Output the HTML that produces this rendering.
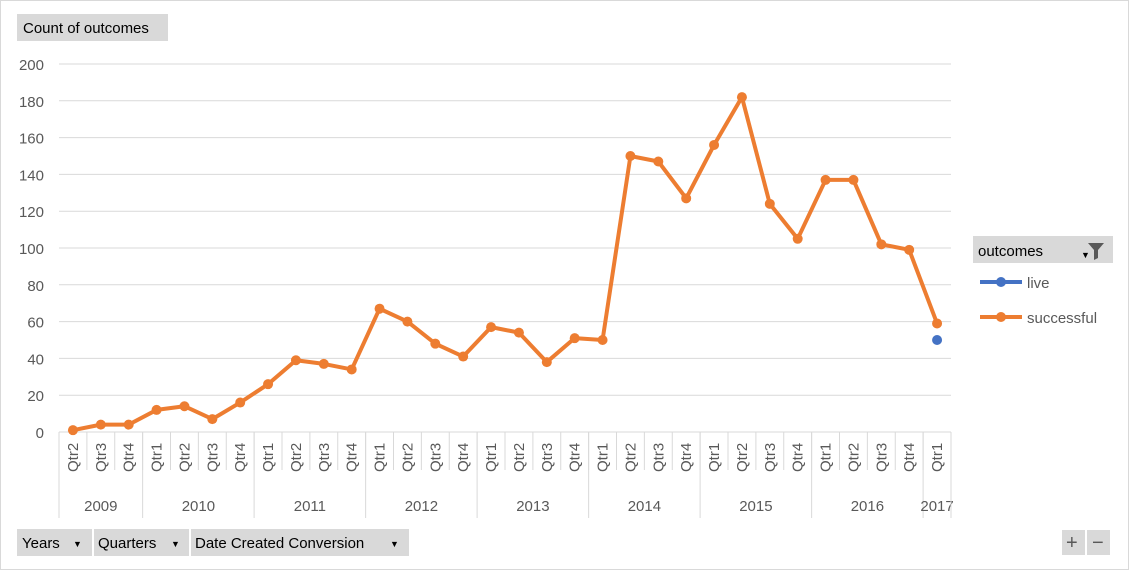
<!DOCTYPE html>
<html><head><meta charset="utf-8"><style>
body{margin:0;background:#fff;font-family:"Liberation Sans",sans-serif;}
svg text{font-family:"Liberation Sans",sans-serif;fill:#595959;}
</style></head><body>
<svg width="1129" height="570" id="c">
<rect x="0.5" y="0.5" width="1128" height="569" fill="#fff" stroke="#d9d9d9"/>
<g><rect x="17" y="14" width="151" height="27" fill="#d9d9d9"/><text x="23" y="33" font-size="15" style="fill:#000">Count of outcomes</text></g>
<g id="grid"></g><g id="xaxis"></g><g id="series"></g>
<g>
<g><rect x="973" y="236" width="140" height="27" fill="#d9d9d9"/><text x="978" y="256" font-size="15" style="fill:#000">outcomes</text><text x="1081" y="258" font-size="9" style="fill:#000">▼</text><path d="M1088 243h16l-6 7v8l-4 2v-10z" fill="#595959"/></g>
<g><line x1="980" y1="282" x2="1022" y2="282" stroke="#4472c4" stroke-width="4"/><circle cx="1001" cy="282" r="5" fill="#4472c4"/><text x="1027" y="288" font-size="15">live</text></g>
<g><line x1="980" y1="317" x2="1022" y2="317" stroke="#ed7d31" stroke-width="4"/><circle cx="1001" cy="317" r="5" fill="#ed7d31"/><text x="1027" y="323" font-size="15">successful</text></g>
</g>
<g><rect x="17" y="529" width="75" height="27" fill="#d9d9d9"/><text x="22" y="548" font-size="15" style="fill:#000">Years</text><text x="73" y="547" font-size="9" style="fill:#000">▼</text></g>
<g><rect x="94" y="529" width="95" height="27" fill="#d9d9d9"/><text x="98" y="548" font-size="15" style="fill:#000">Quarters</text><text x="171" y="547" font-size="9" style="fill:#000">▼</text></g>
<g><rect x="191" y="529" width="218" height="27" fill="#d9d9d9"/><text x="195" y="548" font-size="15" style="fill:#000">Date Created Conversion</text><text x="390" y="547" font-size="9" style="fill:#000">▼</text></g>
<g><rect x="1062" y="530" width="23" height="25" fill="#d9d9d9"/><text x="1066" y="549" font-size="20">+</text></g>
<g><rect x="1087" y="530" width="23" height="25" fill="#d9d9d9"/><text x="1092" y="549" font-size="20">−</text></g>
</svg>
<script>
const years=["2009","2010","2011","2012","2013","2014","2015","2016","2017"];
const yearCounts=[3,4,4,4,4,4,4,4,1];
const quarters=["Qtr2","Qtr3","Qtr4","Qtr1","Qtr2","Qtr3","Qtr4","Qtr1","Qtr2","Qtr3","Qtr4","Qtr1","Qtr2","Qtr3","Qtr4","Qtr1","Qtr2","Qtr3","Qtr4","Qtr1","Qtr2","Qtr3","Qtr4","Qtr1","Qtr2","Qtr3","Qtr4","Qtr1","Qtr2","Qtr3","Qtr4","Qtr1"];
const successful=[1,4,4,12,14,7,16,26,39,37,34,67,60,48,41,57,54,38,51,50,150,147,127,156,182,124,105,137,137,102,99,59];
const live=[null,null,null,null,null,null,null,null,null,null,null,null,null,null,null,null,null,null,null,null,null,null,null,null,null,null,null,null,null,null,null,50];
const yTicks=[0,20,40,60,80,100,120,140,160,180,200];
const NS="http://www.w3.org/2000/svg";
const L=59,R=951,T=64,B=432;
const n=quarters.length,bw=(R-L)/n;
const xs=i=>L+bw*(i+0.5);
const ys=v=>B-(v/200)*(B-T);
function mk(p,t,a){const e=document.createElementNS(NS,t);for(const k in a)e.setAttribute(k,a[k]);p.appendChild(e);return e;}
const g=document.getElementById('grid'),xa=document.getElementById('xaxis'),s=document.getElementById('series');
yTicks.forEach(v=>{
 const l=mk(g,'line',{x1:L,x2:R,y1:ys(v),y2:ys(v),stroke:'#d9d9d9'});
 
 
 const t=mk(g,'text',{x:44,y:ys(v)+6,'font-size':15,'text-anchor':'end'});t.textContent=v;
 
 
});
for(let i=0;i<=n;i++){mk(xa,'line',{x1:L+bw*i,x2:L+bw*i,y1:B,y2:B+38,stroke:'#d9d9d9'});}
quarters.forEach((q,i)=>{
 const t=mk(xa,'text',{transform:`translate(${xs(i)+5},${B+40}) rotate(-90)`,'font-size':15});t.textContent=q;
 
 
});
let start=0;
years.forEach((y,k)=>{
 const end=start+yearCounts[k];
 mk(xa,'line',{x1:L+bw*start,x2:L+bw*start,y1:B,y2:518,stroke:'#d9d9d9'});
 const t=mk(xa,'text',{x:L+bw*(start+end)/2,y:511,'font-size':15,'text-anchor':'middle'});t.textContent=y;
 
 
 start=end;
});
mk(xa,'line',{x1:R,x2:R,y1:B,y2:518,stroke:'#d9d9d9'});
const p=mk(s,'polyline',{points:successful.map((v,i)=>xs(i)+','+ys(v)).join(' '),fill:'none',stroke:'#ed7d31','stroke-width':4,'stroke-linejoin':'round'});


successful.forEach((v,i)=>{const c=mk(s,'circle',{cx:xs(i),cy:ys(v),r:5,fill:'#ed7d31'});
 
 });
live.forEach((v,i)=>{if(v==null)return;const c=mk(s,'circle',{cx:xs(i),cy:ys(v),r:5,fill:'#4472c4'});
 
 });
</script>
</body></html>
